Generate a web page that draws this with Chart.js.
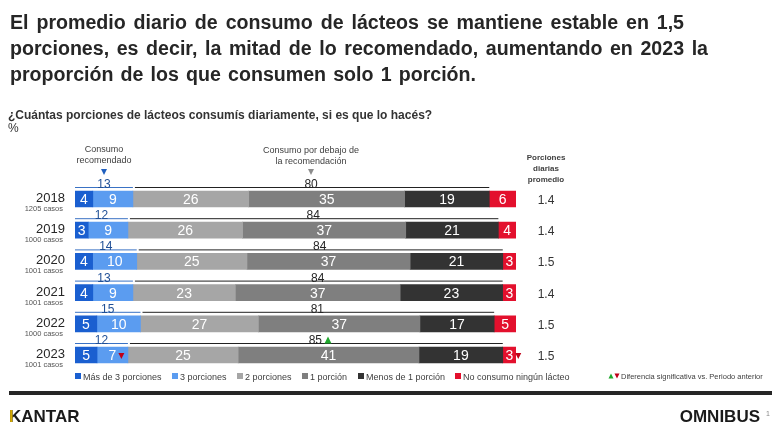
<!DOCTYPE html>
<html><head><meta charset="utf-8">
<script src="https://cdn.jsdelivr.net/npm/chart.js@4.4.1/dist/chart.umd.min.js"></script>
<style>html,body{margin:0;padding:0;background:#fff;overflow:hidden}#wrap{width:772px;height:431px;position:relative}canvas{display:block}</style>
</head><body><div id="wrap"><canvas id="c" width="772" height="431"></canvas></div>
<script>
// ---- data ----
const years = ['2018','2019','2020','2021','2022','2023'];
const casos = ['1205 casos','1000 casos','1001 casos','1001 casos','1000 casos','1001 casos'];
const seriesNames = ['Más de 3 porciones','3 porciones','2 porciones','1 porción','Menos de 1 porción','No consumo ningún lácteo'];
const masDe3  = [4,3,4,4,5,5];
const tres    = [9,9,10,9,10,7];
const dos     = [26,26,25,23,27,25];
const una     = [35,37,37,37,37,41];
const menos1  = [19,21,21,23,17,19];
const ninguno = [6,4,3,3,5,3];
const recomendado = [13,12,14,13,15,12];
const debajo      = [80,84,84,84,81,85];
const promedio    = ['1.4','1.4','1.5','1.4','1.5','1.5'];
// significance markers: [row, series index or 'debajo', direction]
const signif = [[5,1,'down'],[5,5,'down'],[5,'debajo','up']];

const FONT = "'Liberation Sans', Arial, sans-serif";
const colors = ['#1a5fd0','#5b9cf0','#a6a6a6','#7f7f7f','#333333','#e3102d'];
const series = [masDe3,tres,dos,una,menos1,ninguno];
const totals = years.map((_,i)=>series.reduce((s,a)=>s+a[i],0));

function tri(ctx,x,y,w,h,dir,color){
  ctx.save();ctx.fillStyle=color;ctx.beginPath();
  if(dir==='down'){ctx.moveTo(x-w/2,y-h/2);ctx.lineTo(x+w/2,y-h/2);ctx.lineTo(x,y+h/2);}
  else{ctx.moveTo(x-w/2,y+h/2);ctx.lineTo(x+w/2,y+h/2);ctx.lineTo(x,y-h/2);}
  ctx.closePath();ctx.fill();ctx.restore();
}
function fitLine(ctx,text,x,y,target,sx){
  const words=text.split(' ');
  const ws=words.map(w=>ctx.measureText(w).width*sx);
  const sum=ws.reduce((a,b)=>a+b,0);
  const sp=ctx.measureText(' ').width*sx;
  let gap=(target-sum)/(words.length-1);
  let scale=sx;
  if(gap<sp){ gap=sp; scale=sx*target/(sum+sp*(words.length-1)); }
  let cx=x;
  words.forEach((w,i)=>{
    ctx.save();ctx.translate(cx,y);ctx.scale(scale,1);ctx.fillText(w,0,0);ctx.restore();
    cx+=ws[i]*scale/sx+gap;
  });
}

const overlay = {
  id:'overlay',
  afterDraw(chart){
    const ctx=chart.ctx;
    ctx.save();
    // title
    ctx.fillStyle='#262626';ctx.textAlign='left';ctx.textBaseline='alphabetic';
    ctx.font='bold 20px '+FONT;
    fitLine(ctx,'El promedio diario de consumo de lácteos se mantiene estable en 1,5',10,29,674,0.98);
    fitLine(ctx,'porciones, es decir, la mitad de lo recomendado, aumentando en 2023 la',10,55,698,0.98);
    fitLine(ctx,'proporción de los que consumen solo 1 porción.',10,81,466,0.98);
    // subtitle
    ctx.font='bold 12px '+FONT;ctx.fillStyle='#333';
    ctx.fillText('¿Cuántas porciones de lácteos consumís diariamente, si es que lo hacés?',8,119);
    ctx.font='12px '+FONT;
    ctx.fillText('%',8,132);
    // annotations
    ctx.font='9px '+FONT;ctx.fillStyle='#404040';ctx.textAlign='center';
    ctx.fillText('Consumo',104,152);
    ctx.fillText('recomendado',104,163);
    tri(ctx,104,172,6,6,'down','#1f5fbf');
    ctx.fillText('Consumo por debajo de',311,153);
    ctx.fillText('la recomendación',311,164);
    tri(ctx,311,172,6,6,'down','#8c8c8c');
    ctx.font='bold 8px '+FONT;ctx.fillStyle='#404040';
    ctx.fillText('Porciones',546,160);
    ctx.fillText('diarias',546,171);
    ctx.fillText('promedio',546,182);

    const metas=series.map((_,d)=>chart.getDatasetMeta(d));
    years.forEach((yr,i)=>{
      const e0=metas[0].data[i];
      const y=e0.y, top=y-8;
      // year labels
      ctx.textAlign='right';ctx.fillStyle='#262626';
      ctx.font='13px '+FONT;ctx.fillText(yr,65,y+3);
      ctx.font='7.5px '+FONT;ctx.fillStyle='#555';ctx.fillText(casos[i],63,y+12);
      // segment labels
      ctx.textAlign='center';ctx.font='14px '+FONT;ctx.fillStyle='#fff';
      series.forEach((arr,d)=>{
        const el=metas[d].data[i];
        const cx=(el.x+el.base)/2;
        ctx.fillText(String(arr[i]),cx,y+5);
      });
      // brackets
      const x0=e0.base, x1=metas[1].data[i].x, x2=metas[4].data[i].x;
      const ly=top-4;
      ctx.lineWidth=1;
      ctx.strokeStyle='#3a72c4';ctx.beginPath();ctx.moveTo(x0,ly+0.5);ctx.lineTo(x1,ly+0.5);ctx.stroke();
      ctx.strokeStyle='#222';ctx.beginPath();ctx.moveTo(x1+2,ly+0.5);ctx.lineTo(x2,ly+0.5);ctx.stroke();
      ctx.font='12px '+FONT;
      ctx.fillStyle='#1f4f96';ctx.fillText(String(recomendado[i]),(x0+x1)/2,ly+1);
      ctx.fillStyle='#262626';ctx.fillText(String(debajo[i]),(x1+x2)/2,ly+1);
      // average
      ctx.font='12px '+FONT;ctx.fillStyle='#333';
      ctx.fillText(promedio[i],546,y+5);
    });
    // significance markers
    signif.forEach(([r,s,dir])=>{
      const col=dir==='up'?'#1fa82d':'#c00018';
      const y=metas[0].data[r].y;
      if(s==='debajo'){
        const x1=metas[1].data[r].x, x2=metas[4].data[r].x;
        ctx.font='12px '+FONT;
        const w=ctx.measureText(String(debajo[r])).width;
        tri(ctx,(x1+x2)/2+w/2+6,y-15,7,7,dir,col);
      } else {
        const el=metas[s].data[r];
        ctx.font='14px '+FONT;
        const w=ctx.measureText(String(series[s][r])).width;
        const cx=(el.x+el.base)/2;
        tri(ctx,cx+w/2+5,y+1,6,6,dir,col);
      }
    });
    // legend
    ctx.font='9px '+FONT;ctx.textAlign='left';
    const lx=[75,172,237,302,358,455];
    seriesNames.forEach((n,d)=>{
      ctx.fillStyle=colors[d];ctx.fillRect(lx[d],373,6,6);
      ctx.fillStyle='#404040';ctx.fillText(n,lx[d]+8,379.5);
    });
    tri(ctx,611,376,5,5,'up','#1fa82d');
    tri(ctx,617,376,5,5,'down','#c00018');
    ctx.font='7.5px '+FONT;ctx.fillStyle='#404040';
    ctx.fillText('Diferencia significativa vs. Periodo anterior',621,379);
    // footer
    ctx.fillStyle='#262626';ctx.fillRect(9,391,763,4);
    ctx.font='bold 17px '+FONT;ctx.fillStyle='#1a1a1a';
    ctx.fillText('KANTAR',9,422);
    ctx.save();ctx.beginPath();ctx.rect(9,405,3.6,20);ctx.clip();
    ctx.fillStyle='#d4a900';ctx.fillText('KANTAR',9,422);ctx.restore();
    ctx.fillStyle='#1a1a1a';ctx.textAlign='right';
    ctx.fillText('OMNIBUS',760,422);
    ctx.font='7px '+FONT;ctx.fillStyle='#888';ctx.textAlign='left';
    ctx.fillText('1',766,416);
    ctx.restore();
  }
};

new Chart(document.getElementById('c'),{
  type:'bar',
  data:{
    labels:years,
    datasets:series.map((arr,d)=>({
      label:seriesNames[d],
      data:arr.map((v,i)=>v/totals[i]*100),
      backgroundColor:colors[d],
      borderWidth:0,
      barThickness:16
    }))
  },
  options:{
    indexAxis:'y',
    responsive:false,
    animation:false,
    devicePixelRatio:1,
    layout:{padding:{left:75,right:256,top:183.4,bottom:60.4}},
    scales:{
      x:{stacked:true,min:0,max:100,display:false},
      y:{stacked:true,display:false}
    },
    plugins:{legend:{display:false},tooltip:{enabled:false}}
  },
  plugins:[overlay]
});
</script>
</body></html>
